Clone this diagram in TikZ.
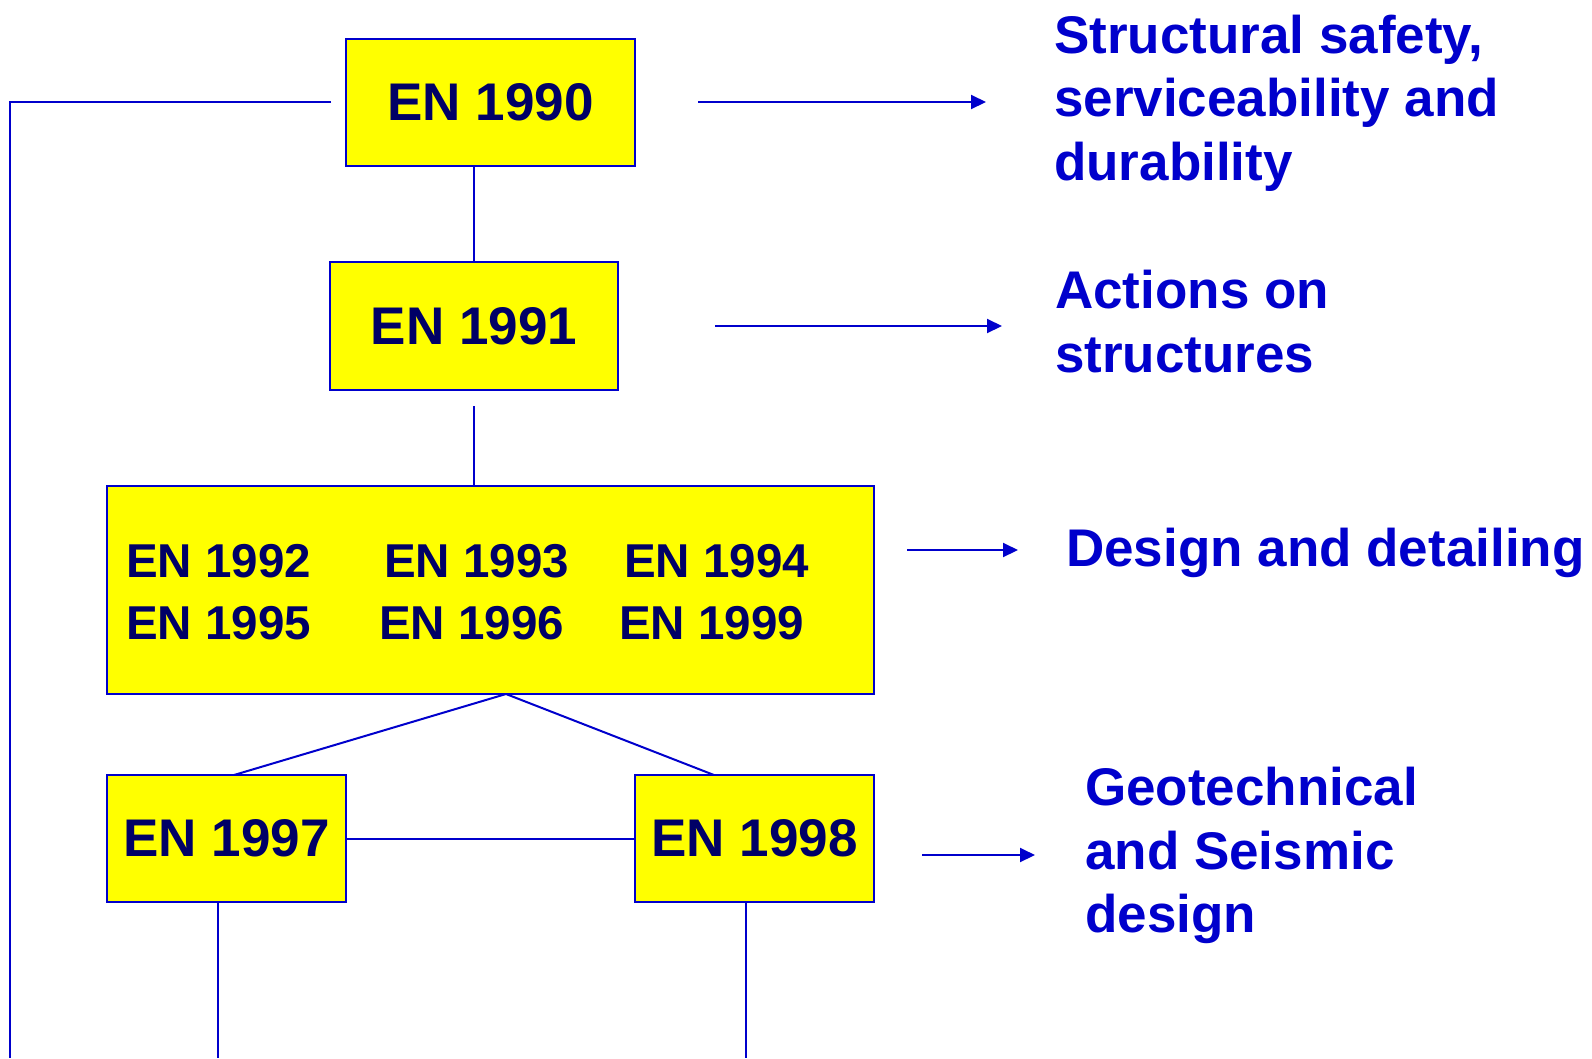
\documentclass[tikz,border=0pt]{standalone}
\usepackage{fontspec}
\setmainfont{Liberation Sans}
\usetikzlibrary{arrows.meta, positioning}

\definecolor{enblue}{HTML}{0000CC}
\definecolor{ennavy}{HTML}{000066}
\definecolor{enyellow}{HTML}{FFFF00}

\begin{document}
\begin{tikzpicture}[
    x=1pt, y=-1pt,
    >={Triangle[length=15pt, width=14pt]},
    enbox/.style={draw=enblue, line width=2pt, fill=enyellow, text=ennavy, inner sep=0pt, font=\fontsize{53}{60}\selectfont\bfseries},
    code/.style={text=ennavy, inner sep=0pt, anchor=base west, font=\fontsize{47.5}{56}\selectfont\bfseries},
    link/.style={draw=enblue, line width=2pt},
    goal/.style={->, draw=enblue, line width=2pt},
    topic/.style={text=enblue, inner sep=0pt, anchor=base west, align=left, font=\fontsize{53}{63.5}\selectfont\bfseries}
]
\useasboundingbox (0,0) rectangle (1592,1058);

% --------------------------------------------------------------------------
% Boxes
% --------------------------------------------------------------------------
\node[enbox, minimum width=289pt, minimum height=127pt] (en1990) at (490.5,102.5) {EN 1990};
\node[enbox, minimum width=288pt, minimum height=128pt] (en1991) at (474,326) {EN 1991};
\node[enbox, minimum width=767pt, minimum height=208pt] (parts) at (490.5,590) {};
\node[enbox, minimum width=239pt, minimum height=127pt] (en1997) at (226.5,838.5) {EN 1997};
\node[enbox, minimum width=239pt, minimum height=127pt] (en1998) at (754.5,838.5) {EN 1998};

\node[code] (en1992) at (126,577.5) {EN 1992};
\node[code] (en1993) at (384,577.5) {EN 1993};
\node[code] (en1994) at (624,577.5) {EN 1994};
\node[code] (en1995) at (126,639) {EN 1995};
\node[code] (en1996) at (379,639) {EN 1996};
\node[code] (en1999) at (619,639) {EN 1999};

% --------------------------------------------------------------------------
% Connectors
% --------------------------------------------------------------------------
\coordinate (leftend) at (331,102);
\coordinate (gapend) at (474,406);
\coordinate (fork) at (506,694);
\coordinate (foot97) at (218,1058);
\coordinate (foot98) at (746,1058);

\draw[link] (leftend) -- (10,102) -- (10,1058);
\draw[link] (en1991.north) -- (en1991.north |- en1990.south);
\draw[link] (gapend) -- (gapend |- parts.north);
\draw[link] (fork) -- (234,775) (fork) -- (714,775);
\draw[link] (en1997.east) -- (en1998.west);
\draw[link] (foot97 |- en1997.south) -- (foot97);
\draw[link] (foot98 |- en1998.south) -- (foot98);

% --------------------------------------------------------------------------
% Scopes on the right (base = last line)
% --------------------------------------------------------------------------
\node[topic] (safety) at (1054,180) {Structural safety,\\serviceability and\\durability};
\node[topic] (actions) at (1055,372) {Actions on\\structures};
\node[topic] (detailing) at (1066,566) {Design and detailing};
\node[topic] (geoseis) at (1085,932.5) {Geotechnical\\and Seismic\\design};

\coordinate (a1s) at (698,102);  \coordinate (a1e) at (986,102);
\coordinate (a2s) at (715,326);  \coordinate (a2e) at (1002,326);
\coordinate (a3s) at (907,550);  \coordinate (a3e) at (1018,550);
\coordinate (a4s) at (922,855);  \coordinate (a4e) at (1035,855);

\draw[goal] (a1s) -- (a1e);
\draw[goal] (a2s) -- (a2e);
\draw[goal] (a3s) -- (a3e);
\draw[goal] (a4s) -- (a4e);

\end{tikzpicture}
\end{document}
